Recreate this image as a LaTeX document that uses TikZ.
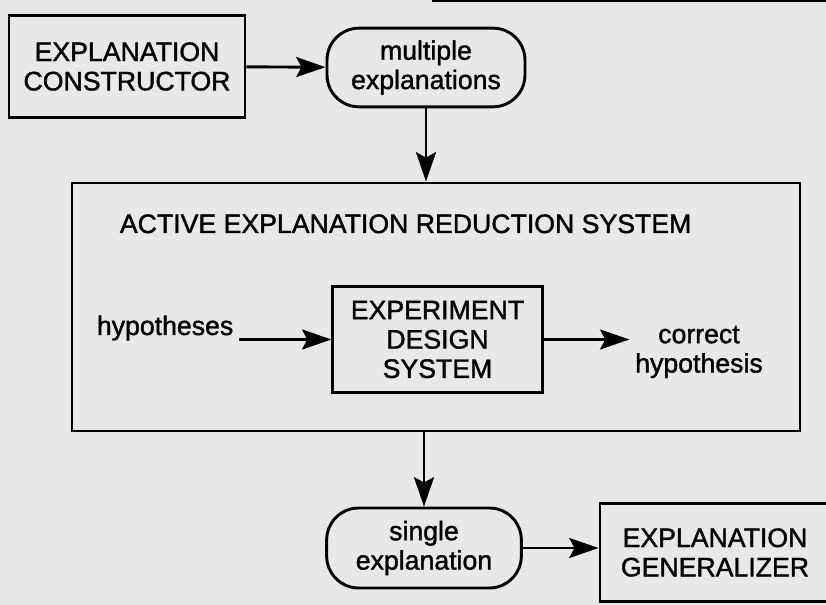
\documentclass[tikz,border=0pt]{standalone}
\usepackage{fontspec}
\setmainfont{Liberation Sans}[FakeBold=1.4]
\usetikzlibrary{arrows.meta}
\begin{document}
\begin{tikzpicture}[x=.75pt,y=-.75pt,line width=2.2pt,
  >={Stealth[length=22pt,width=15pt,inset=4pt]},
  every node/.style={font=\fontsize{20}{22}\selectfont,align=center},
  blk/.style={draw,rectangle},
  oval/.style={draw,rounded corners=24pt}]
\useasboundingbox (0,0) rectangle (826,605);
\clip (0,0) rectangle (826,605);
\fill[black!9] (0,0) rectangle (826,605);
\draw[line width=1.2pt] (432,1) -- (826,1);

\node[blk,minimum width=177pt,minimum height=77pt](ec) at (127,66.5){EXPLANATION\\CONSTRUCTOR};
\node[oval,minimum width=148.5pt,minimum height=59pt](me) at (426,67.5){multiple\\explanations};
\node[blk,minimum width=546pt,minimum height=186pt](ares) at (436,307){};
\node[anchor=base west](title) at (114,233){ACTIVE EXPLANATION REDUCTION SYSTEM};
\node[anchor=base west](hyp) at (91,335){hypotheses};
\node[blk,minimum width=157pt,minimum height=79pt](eds) at (437.5,339.5){EXPERIMENT\\DESIGN\\SYSTEM};
\node(corr) at (699,352){correct\\hypothesis};
\node[oval,minimum width=146pt,minimum height=60pt](se) at (424,548){single\\explanation};
\node[blk,minimum width=172.5pt,minimum height=74pt](eg) at (715,552.5){EXPLANATION\\GENERALIZER};

\draw[->](ec) -- (me);
\draw[->](me.south) -- (me.south |- ares.north);
\draw[->](hyp.east |- eds.west) -- (eds.west);
\draw[->](eds.east) -- (eds.east -| corr.west);
\draw[->](se.north |- ares.south) -- (se.north);
\draw[->](se.east) -- (se.east -| eg.west);
\end{tikzpicture}
\end{document}
